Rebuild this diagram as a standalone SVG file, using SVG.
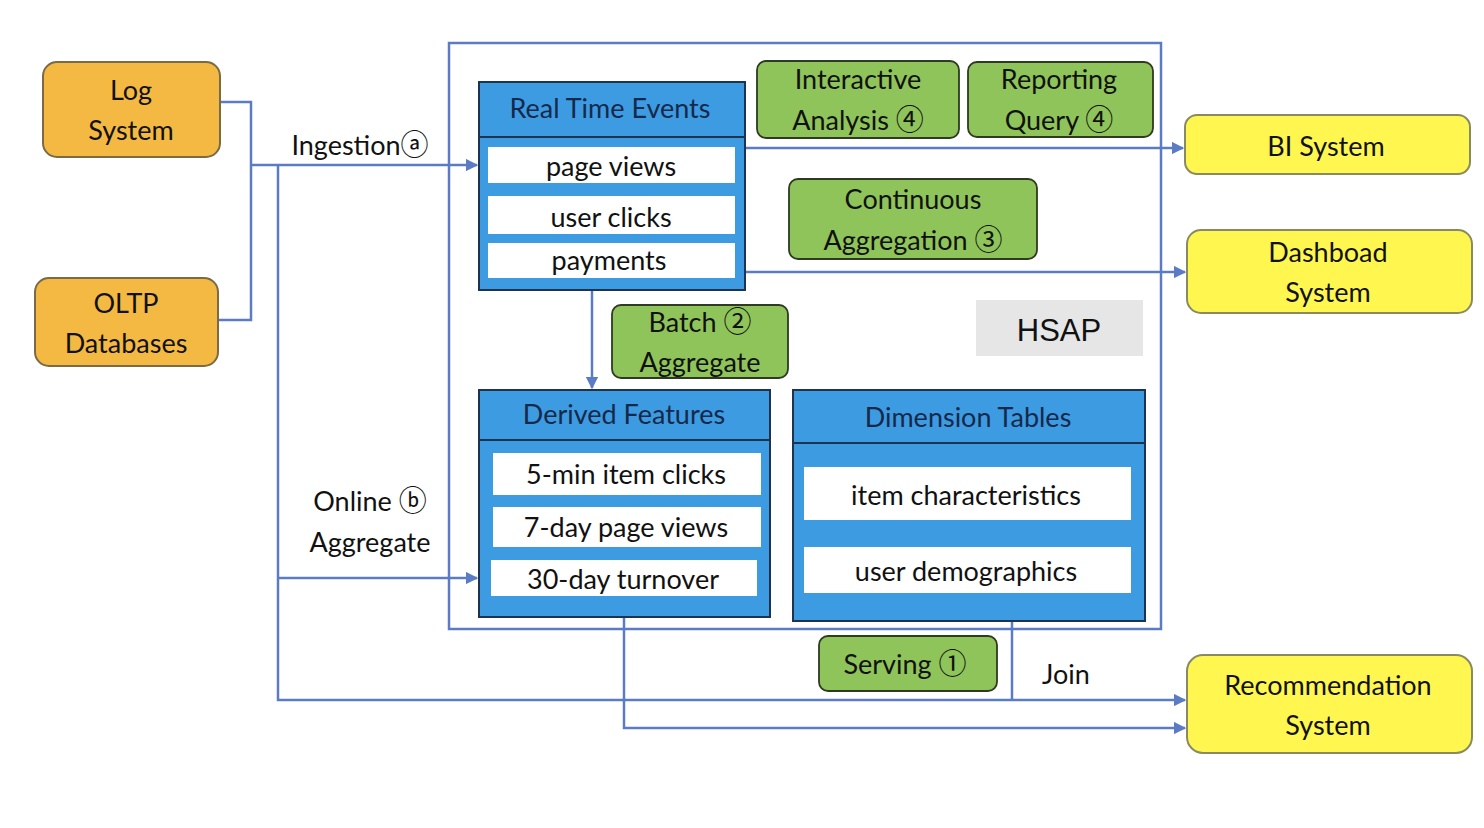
<svg xmlns="http://www.w3.org/2000/svg" width="1484" height="828" viewBox="0 0 1484 828">
<defs>
<marker id="arr" viewBox="0 0 10 10" refX="9" refY="5" markerWidth="5" markerHeight="5" orient="auto" markerUnits="strokeWidth">
<path d="M0,0 L10,5 L0,10 z" fill="#5B7BC4"/>
</marker>
<style>
text{font-family:Lato,"DejaVu Sans",sans-serif;font-size:27px;fill:#111;text-anchor:middle}
.c{font-family:"Noto Sans CJK SC","DejaVu Sans",sans-serif;font-size:28px}
.src{fill:#F4B942;stroke:#7A6A45;stroke-width:2}
.dst{fill:#FFF74F;stroke:#8A8A60;stroke-width:2}
.grn{fill:#8FC45A;stroke:#2E3A22;stroke-width:1.8}
.tbl{fill:#3D9BE2;stroke:#1E3350;stroke-width:2}
.row{fill:#fff}
.hdr{fill:#16294A}
.con{fill:none;stroke:#5B7BC4;stroke-width:2.5}
.frame{fill:none;stroke:#5B7BC4;stroke-width:2.5}
</style>
</defs>
<rect width="1484" height="828" fill="#fff"/>

<rect class="frame" x="449" y="43" width="712" height="586"/>

<g id="connectors">
<path class="con" d="M220,102 H251 V320 H218"/>
<path class="con" d="M251,165 H477" marker-end="url(#arr)"/>
<path class="con" d="M278,165 V700 H1185" marker-end="url(#arr)"/>
<path class="con" d="M278,578 H477" marker-end="url(#arr)"/>
<path class="con" d="M592,290 V388" marker-end="url(#arr)"/>
<path class="con" d="M745,148 H1183" marker-end="url(#arr)"/>
<path class="con" d="M745,272 H1185" marker-end="url(#arr)"/>
<path class="con" d="M624,617 V728 H1185" marker-end="url(#arr)"/>
<path class="con" d="M1012,621 V700"/>
</g>

<g id="log-system">
<rect class="src" x="43" y="62" width="177" height="95" rx="14"/>
<text x="131" y="100">Log</text>
<text x="131" y="140">System</text>
</g>
<g id="oltp-databases">
<rect class="src" x="35" y="278" width="183" height="88" rx="14"/>
<text x="126" y="313">OLTP</text>
<text x="126" y="353">Databases</text>
</g>

<g id="label-ingestion"><text x="360" y="155">Ingestion<tspan class="c">ⓐ</tspan></text></g>
<g id="label-online"><text x="370" y="511">Online <tspan class="c">ⓑ</tspan></text><text x="370" y="552">Aggregate</text></g>

<g id="real-time-events">
<rect class="tbl" x="479" y="82" width="266" height="208"/>
<line x1="479" y1="137" x2="745" y2="137" stroke="#1E3350" stroke-width="2"/>
<text class="hdr" x="610" y="118">Real Time Events</text>
<rect class="row" x="488" y="147" width="247" height="36"/>
<text x="611" y="176">page views</text>
<rect class="row" x="488" y="196" width="247" height="38"/>
<text x="611" y="227">user clicks</text>
<rect class="row" x="488" y="243" width="247" height="35"/>
<text x="609" y="270">payments</text>
</g>

<g id="interactive-analysis">
<rect class="grn" x="757" y="61" width="202" height="77" rx="9"/>
<text x="858" y="89">Interactive</text>
<text x="858" y="130">Analysis <tspan class="c">④</tspan></text>
</g>
<g id="reporting-query">
<rect class="grn" x="968" y="62" width="185" height="75" rx="9"/>
<text x="1059" y="89">Reporting</text>
<text x="1059" y="130">Query <tspan class="c">④</tspan></text>
</g>
<g id="continuous-aggregation">
<rect class="grn" x="789" y="179" width="248" height="80" rx="9"/>
<text x="913" y="209">Continuous</text>
<text x="913" y="250">Aggregation <tspan class="c">③</tspan></text>
</g>
<g id="batch-aggregate">
<rect class="grn" x="612" y="305" width="176" height="73" rx="9"/>
<text x="700" y="332">Batch <tspan class="c">②</tspan></text>
<text x="700" y="372">Aggregate</text>
</g>
<g id="hsap">
<rect x="976" y="300" width="167" height="56" fill="#E6E6E6"/>
<text x="1059" y="341" style="font-family:'Liberation Sans',Arial,sans-serif;font-size:31px">HSAP</text>
</g>

<g id="derived-features">
<rect class="tbl" x="479" y="390" width="291" height="227"/>
<line x1="479" y1="440" x2="770" y2="440" stroke="#1E3350" stroke-width="2"/>
<text class="hdr" x="624" y="424">Derived Features</text>
<rect class="row" x="493" y="453" width="268" height="42"/>
<text x="626" y="484">5-min item clicks</text>
<rect class="row" x="493" y="507" width="268" height="40"/>
<text x="626" y="537">7-day page views</text>
<rect class="row" x="491" y="560" width="266" height="36"/>
<text x="623" y="589">30-day turnover</text>
</g>

<g id="dimension-tables">
<rect class="tbl" x="793" y="390" width="352" height="231"/>
<line x1="793" y1="443" x2="1145" y2="443" stroke="#1E3350" stroke-width="2"/>
<text class="hdr" x="968" y="427">Dimension Tables</text>
<rect class="row" x="804" y="467" width="327" height="53"/>
<text x="966" y="505">item characteristics</text>
<rect class="row" x="804" y="547" width="327" height="46"/>
<text x="966" y="581">user demographics</text>
</g>

<g id="serving">
<rect class="grn" x="819" y="636" width="178" height="55" rx="9"/>
<text x="905" y="674">Serving <tspan class="c">①</tspan></text>
</g>
<g id="label-join"><text x="1066" y="684">Join</text></g>

<g id="bi-system">
<rect class="dst" x="1185" y="115" width="285" height="59" rx="12"/>
<text x="1326" y="156">BI System</text>
</g>
<g id="dashboad-system">
<rect class="dst" x="1187" y="230" width="285" height="83" rx="14"/>
<text x="1328" y="262">Dashboad</text>
<text x="1328" y="302">System</text>
</g>
<g id="recommendation-system">
<rect class="dst" x="1187" y="655" width="285" height="98" rx="16"/>
<text x="1328" y="695">Recommendation</text>
<text x="1328" y="735">System</text>
</g>
</svg>
